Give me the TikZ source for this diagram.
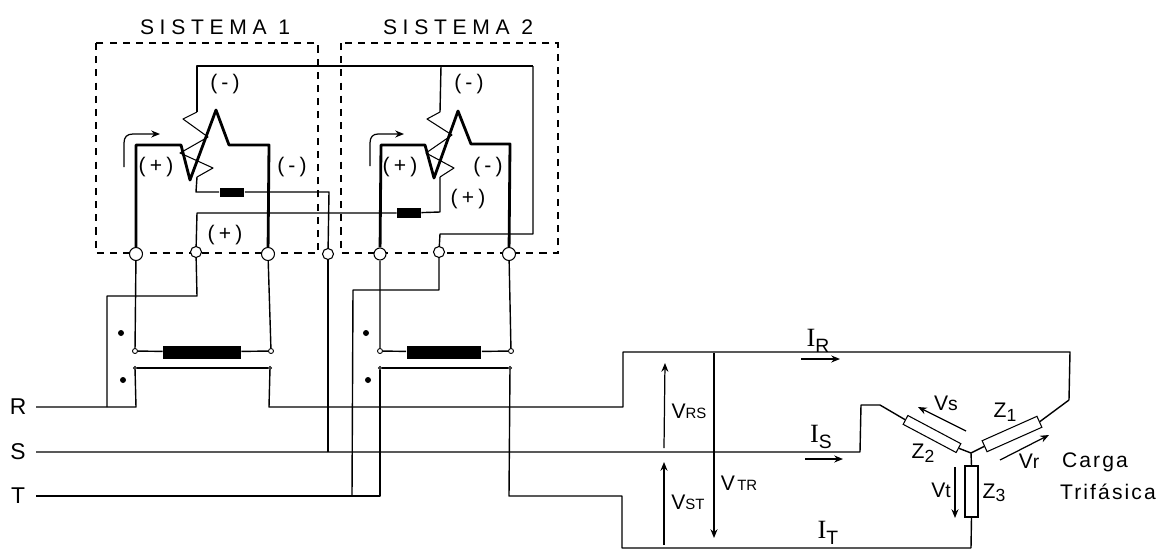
\documentclass[tikz,border=0pt]{standalone}
\usepackage{fontspec}
\setmainfont{Liberation Sans}
\newfontfamily\seriffont{Liberation Serif}
\newfontfamily\widefont[LetterSpace=27]{Liberation Sans}
\newfontfamily\loosefont[LetterSpace=20]{Liberation Sans}
\newfontfamily\cargafont[LetterSpace=10]{Liberation Sans}
\usetikzlibrary{arrows.meta}
\newcommand{\curlabel}[1]{{\seriffont\fontsize{15}{15}\selectfont I}\raisebox{-3.5pt}{\fontsize{11}{11}\selectfont #1}}
\newcommand{\vlabel}[1]{V{\fontsize{8.5}{8.5}\selectfont #1}}
\newcommand{\vsmall}[1]{V{\fontsize{11}{11}\selectfont #1}}
\newcommand{\zlabel}[1]{Z\raisebox{-2pt}{\fontsize{10}{10}\selectfont #1}}
\tikzset{
    wire/.style = {line width=0.8pt, line join=round},
    thickwire/.style = {line width=1.6pt, line join=round},
    coilwire/.style = {line width=0.6pt, line join=round},
    boxline/.style = {line width=0.8pt, dash pattern=on 4pt off 3.5pt},
    sense/.style = {line width=0.7pt, -{Stealth[length=5pt,width=4pt]}},
    terminal/.style = {circle, draw, fill=white, line width=0.6pt, inner sep=0pt, minimum size=0.26cm},
    tap/.style = {circle, draw, fill=white, line width=0.5pt, inner sep=0pt, minimum size=0.1cm},
    resbar/.style = {rectangle, fill=black, inner sep=0pt},
    impedance/.style = {rectangle, draw, fill=white, line width=0.6pt, inner sep=0pt},
    dotmark/.style = {circle, fill=black, inner sep=0pt, minimum size=0.12cm},
    txt/.style = {inner sep=0pt, font=\fontsize{12}{13}\selectfont}
}
\begin{document}
\begin{tikzpicture}[x=0.02cm, y=-0.02cm]
    \useasboundingbox (0, 0) rectangle (1157, 555);

    % measuring boxes
    \draw[boxline] (96, 43) rectangle (318, 253);
    \draw[boxline] (341, 43) rectangle (558, 253);
    \node[txt] (titlea) at (215, 27) {\widefont SISTEMA 1};
    \node[txt] (titleb) at (458, 27) {\widefont SISTEMA 2};

    % terminals
    \node[terminal] (ta) at (136, 254) {};
    \node[terminal, minimum size=0.22cm] (tb) at (196, 252) {};
    \node[terminal] (tc) at (268, 254) {};
    \node[terminal, minimum size=0.22cm] (td) at (328, 254) {};
    \node[terminal, minimum size=0.24cm] (te) at (380, 254) {};
    \node[terminal, minimum size=0.22cm] (tf) at (439, 252) {};
    \node[terminal] (tg) at (509, 254) {};

    % series resistors of the coils
    \node[resbar, minimum width=0.5cm, minimum height=0.18cm] (resa) at (232, 192) {};
    \node[resbar, minimum width=0.48cm, minimum height=0.2cm] (resb) at (409, 213) {};

    % current coils
    \draw[thickwire] (ta) -- (136, 145) -- (181, 145) -- (190, 180) -- (216, 110) -- (229, 145) -- (269, 145) -- (tc);
    \draw[thickwire] (te) -- (381, 145) -- (425, 145) -- (434, 178) -- (458, 111) -- (471, 144) -- (510, 144) -- (tg);

    % voltage coils
    \draw[wire] (533, 66) -- (197, 66) -- (197, 112);
    \draw[coilwire] (197, 112) -- (183, 119) -- (208, 137) -- (180, 153) -- (213, 168) -- (197, 177);
    \draw[wire] (197, 177) -- (196, 192) -- (resa);
    \draw[wire] (resa) -- (329, 192) -- (td);
    \draw[wire] (tb) -- (197, 213) -- (resb);
    \draw[wire] (441, 66) -- (440, 112);
    \draw[coilwire] (440, 112) -- (427, 119) -- (452, 135) -- (426, 153) -- (454, 168) -- (440, 177);
    \draw[wire] (440, 177) -- (440, 212) -- (resb);
    \draw[wire] (533, 66) -- (533, 234) -- (440, 234) -- (tf);

    % rotation arrows
    \draw[sense] (124, 167) -- (124, 143) .. controls (124, 137) and (127, 134) .. (133, 134) -- (160, 134);
    \draw[sense] (370, 166) -- (370, 143) .. controls (370, 137) and (373, 134) .. (378, 134) -- (404, 134);

    % signs
    \node[txt] (nega) at (225, 84) {\loosefont (-)};
    \node[txt] (posa) at (156, 167) {\loosefont (+)};
    \node[txt] (negb) at (292, 167) {\loosefont (-)};
    \node[txt] (posb) at (225, 235) {\loosefont (+)};
    \node[txt] (negc) at (469, 84) {\loosefont (-)};
    \node[txt] (posc) at (400, 167) {\loosefont (+)};
    \node[txt] (negd) at (488, 167) {\loosefont (-)};
    \node[txt] (posd) at (468, 199) {\loosefont (+)};

    % current transformers
    \node[resbar, minimum width=1.56cm, minimum height=0.26cm] (cta) at (202, 352) {};
    \node[resbar, minimum width=1.5cm, minimum height=0.26cm] (ctb) at (444, 352) {};
    \node[tap] (tapa) at (135, 351) {};
    \node[tap] (tapb) at (271, 351) {};
    \node[tap] (tapc) at (380, 351) {};
    \node[tap] (tapd) at (511, 351) {};
    \node[tap, minimum size=0.06cm] (tape) at (135, 368) {};
    \node[tap, minimum size=0.06cm] (tapf) at (270, 368) {};
    \node[tap, minimum size=0.06cm] (tapg) at (380, 368) {};
    \node[tap, minimum size=0.06cm] (taph) at (510, 368) {};
    \draw[wire] (ta) -- (tapa) -- (cta) -- (tapb) -- (tc);
    \draw[wire] (te) -- (tapc) -- (ctb) -- (tapd) -- (tg);
    \draw[wire] (tape) -- (tapf);
    \draw[wire] (tapg) -- (taph);
    \node[dotmark] (dota) at (121, 333) {};
    \node[dotmark] (dotb) at (123, 380) {};
    \node[dotmark] (dotc) at (366, 333) {};
    \node[dotmark] (dotd) at (368, 380) {};

    % lines
    \node[txt, font=\fontsize{13}{13}\selectfont] (lr) at (18, 407) {R};
    \node[txt, font=\fontsize{13}{13}\selectfont] (ls) at (18, 452) {S};
    \node[txt, font=\fontsize{13}{13}\selectfont] (lt) at (18, 496) {T};
    \draw[wire] (36, 407) -- (136, 407) -- (tape);
    \draw[wire] (tapf) -- (269, 407) -- (623, 407) -- (623, 352) -- (1070, 352) -- (1069, 400);
    \draw[wire] (tb) -- (197, 296) -- (107, 296) -- (107, 407);
    \draw[wire] (36, 452) -- (860, 452) -- (861, 405) -- (880, 405);
    \draw[wire] (td) -- (328, 452);
    \draw[wire] (36, 496) -- (380, 496) -- (tapg);
    \draw[wire] (tf) -- (439, 290) -- (353, 290) -- (352, 496);
    \draw[wire] (taph) -- (509, 496) -- (622, 496) -- (622, 548) -- (971, 548);

    % load
    \coordinate (star) at (971, 453);
    \node[impedance, minimum width=1.2cm, minimum height=0.24cm, rotate=24] (zone) at (1012, 434) {};
    \node[impedance, minimum width=1.2cm, minimum height=0.2cm, rotate=-28] (ztwo) at (932, 434) {};
    \node[impedance, minimum width=0.26cm, minimum height=1.02cm] (zthree) at (971.5, 491.5) {};
    \draw[wire] (star) -- (zone.west);
    \draw[wire] (zone.east) -- (1069, 400);
    \draw[wire] (star) -- (ztwo.east);
    \draw[wire] (ztwo.west) -- (880, 405);
    \draw[wire] (star) -- (zthree.north);
    \draw[wire] (zthree.south) -- (971, 548);

    % voltages and currents
    \draw[sense] (664, 448) -- (665, 363);
    \draw[sense] (664, 545) -- (664, 462);
    \draw[sense] (714, 353) -- (714, 538);
    \draw[sense] (801, 359) -- (840, 359);
    \draw[sense] (805, 459) -- (843, 459);
    \draw[sense] (966, 431) -- (918, 407);
    \draw[sense] (1000, 460) -- (1049, 435);
    \draw[sense] (955, 467) -- (955, 518);

    \node[txt] (ir) at (818, 341) {\curlabel{R}};
    \node[txt] (is) at (821, 437) {\curlabel{S}};
    \node[txt] (it) at (828, 533) {\curlabel{T}};
    \node[txt] (vrs) at (689, 411) {\vlabel{RS}};
    \node[txt] (vst) at (688, 502) {\vlabel{ST}};
    \node[txt] (vtr) at (739, 483) {\vlabel{\,TR}};
    \node[txt] (vs) at (946, 403) {\vsmall{s}};
    \node[txt] (vr) at (1029, 461) {\vsmall{r}};
    \node[txt] (vt) at (941, 490) {\vsmall{t}};
    \node[txt] (zo) at (1005, 412) {\zlabel{1}};
    \node[txt] (zt) at (923, 453) {\zlabel{2}};
    \node[txt] (zh) at (994, 493) {\zlabel{3}};
    \node[txt] (carga) at (1095, 462) {\cargafont Carga};
    \node[txt] (trif) at (1108, 492) {\cargafont Trifásica};
\end{tikzpicture}
\end{document}
